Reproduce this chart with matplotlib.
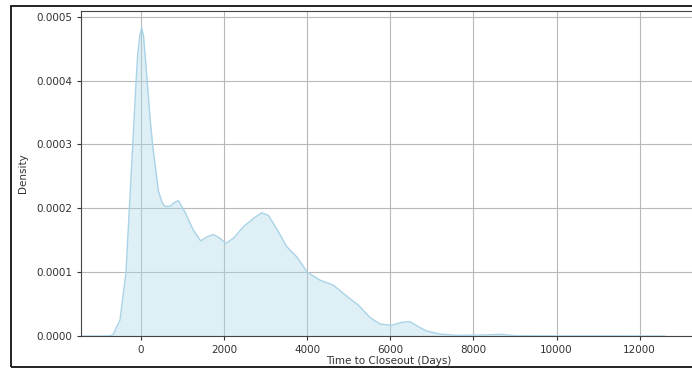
import matplotlib
matplotlib.use("Agg")
import matplotlib.pyplot as plt
from matplotlib.patches import Rectangle

# Density curve (days, density)
days = [-1400, -900, -750, -674, -505, -425, -361, -282, -200, -120, -80, -30,
        17, 60, 96, 152, 220, 282, 337, 417, 500, 578, 698, 800, 899, 1059,
        1259, 1436, 1580, 1741, 1901, 2046, 2222, 2463, 2703, 2904, 3064, 3265,
        3506, 3747, 4003, 4308, 4629, 4950, 5230, 5511, 5752, 6033, 6274, 6474,
        6674, 6876, 7196, 7600, 8200, 8640, 9042, 9600, 10500, 11500, 12600]
density = [0.0, 0.0, 0.0000005, 0.000002, 0.000025, 0.000067, 0.0001, 0.000198,
           0.000298, 0.000397, 0.000440, 0.000470, 0.000483, 0.000470, 0.000442,
           0.000397, 0.000340, 0.000298, 0.00027, 0.000228, 0.000210, 0.000203,
           0.000203, 0.000209, 0.000212, 0.000194, 0.000166, 0.000149, 0.000155,
           0.000159, 0.000153, 0.000145, 0.000153, 0.000171, 0.000184, 0.000193,
           0.000189, 0.000168, 0.00014, 0.000124, 0.0001, 0.0000875, 0.0000797,
           0.0000625, 0.0000484, 0.000029, 0.0000188, 0.0000167, 0.0000214,
           0.0000224, 0.0000146, 0.0000078, 0.000003, 0.000001, 0.0000015,
           0.0000026, 0.0000005, 0.0000003, 0.0000002, 0.0000002, 0.0]

x_ticks = [0, 2000, 4000, 6000, 8000, 10000, 12000]
y_ticks = [0.0, 0.0001, 0.0002, 0.0003, 0.0004, 0.0005]

fig = plt.figure(figsize=(6.92, 3.71), dpi=100)
# axes run a little past the right edge, as in the cropped screenshot
ax = fig.add_axes([81 / 692, 1 - 336 / 371, 616 / 692, 325 / 371])

ax.fill_between(days, density, color="lightblue", alpha=0.4, linewidth=0, zorder=2)
ax.plot(days, density, color="#a9d3e6", linewidth=1.0, zorder=3)

ax.set_xlim(-1444, 13381)
ax.set_ylim(0, 0.000509)
ax.set_xticks(x_ticks)
ax.set_xticklabels([str(t) for t in x_ticks])
ax.set_yticks(y_ticks)
ax.set_yticklabels([f"{t:.4f}" for t in y_ticks])
ax.tick_params(labelsize=7.5, length=3, colors="#333333", labelcolor="#333333")
ax.grid(True, color="#b8b8b8", linewidth=0.8, zorder=1)
ax.set_axisbelow(True)
ax.set_xlabel("Time to Closeout (Days)", fontsize=7.5, color="#333333", labelpad=1)
ax.set_ylabel("Density", fontsize=7.5, color="#333333", labelpad=6)
for s in ax.spines.values():
    s.set_color("#444444")

# screenshot frame around the chart
fig.patches.append(Rectangle((11 / 692, 4 / 371), 700 / 692, 361 / 371,
                             transform=fig.transFigure, fill=False,
                             edgecolor="#111111", linewidth=1.3))

fig.savefig("out.png", dpi=100)
